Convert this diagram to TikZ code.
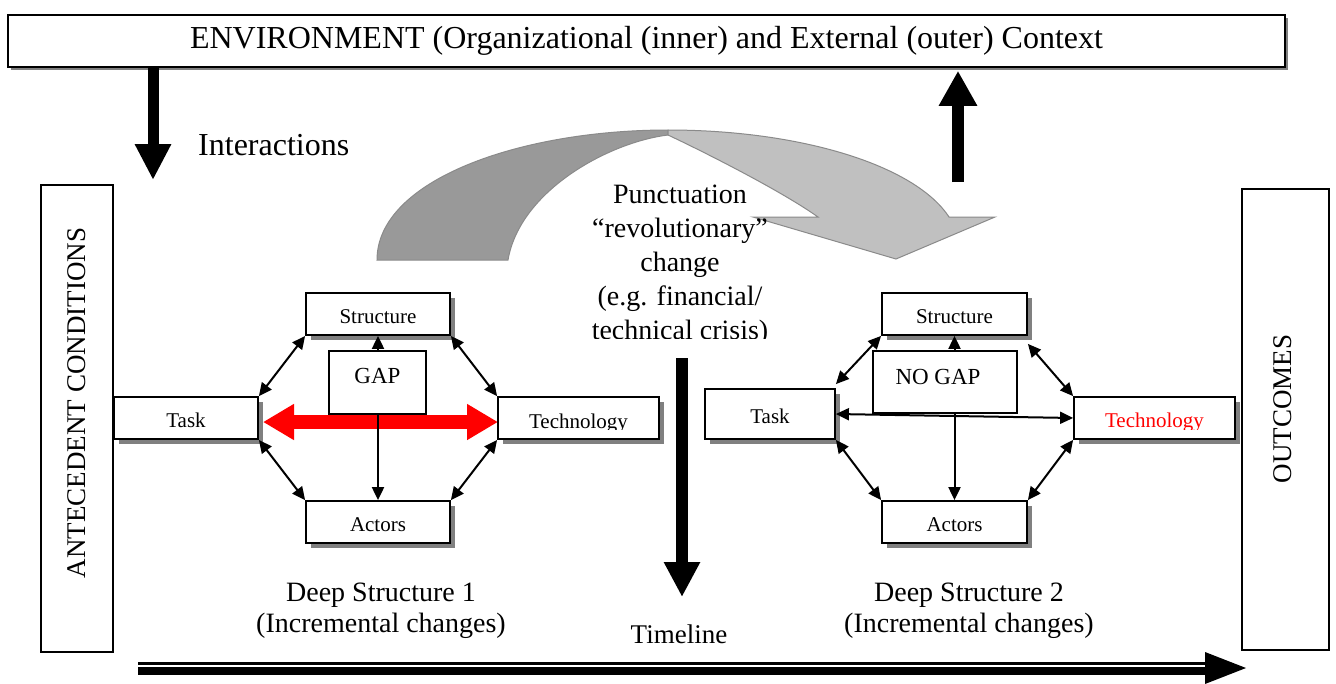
\documentclass[tikz,border=0pt]{standalone}
\usepackage{fontspec}
\setmainfont{Liberation Serif}
\usetikzlibrary{arrows.meta,shadows}
\definecolor{shadowgray}{HTML}{808080}
\definecolor{darkband}{HTML}{999999}
\definecolor{lightband}{HTML}{C0C0C0}
\definecolor{bandedge}{HTML}{8A8A8A}
\begin{document}
\begin{tikzpicture}[x=1pt,y=-1pt,
  box/.style={draw, line width=1.8pt, fill=white, inner sep=0pt,
    font=\fontsize{21}{25}\selectfont, text height=18pt, text depth=0pt,
    drop shadow={shadow xshift=5pt,shadow yshift=-5pt,fill=shadowgray,opacity=1}},
  bigbox/.style={draw, line width=1.6pt, fill=white, inner sep=0pt,
    font=\fontsize{27}{32}\selectfont},
  lbl/.style={inner sep=0pt, font=\fontsize{21}{25}\selectfont},
  big/.style={inner sep=0pt, font=\fontsize{28}{31}\selectfont, align=center},
  dbl/.style={line width=2pt, {Triangle[length=13pt,width=12pt]}-{Triangle[length=13pt,width=12pt]}},
  one/.style={line width=2pt, -{Triangle[length=13pt,width=12pt]}},
  bigarrow/.style={line width=11pt, -{Triangle[length=36pt,width=34pt]}}
]
\useasboundingbox (0,0) rectangle (1336,683);
\fill[white] (0,0) rectangle (1336,683);

% Environment box
\node[bigbox, minimum width=1277pt, minimum height=52pt, font=\fontsize{32}{36}\selectfont,
  drop shadow={shadow xshift=3pt,shadow yshift=-3pt,fill=shadowgray,opacity=1}]
  (env) at (646.5,41) {ENVIRONMENT (Organizational (inner) and External (outer) Context};

% Side boxes
\node[bigbox, minimum width=72pt, minimum height=467pt] (ante) at (77,418.5) {};
\node[inner sep=0pt, font=\fontsize{27}{32}\selectfont, rotate=90] (antetxt) at (77,403) {ANTECEDENT CONDITIONS};
\node[bigbox, minimum width=87pt, minimum height=461pt] (outc) at (1285.5,419.5) {};
\node[inner sep=0pt, font=\fontsize{27}{32}\selectfont, rotate=90] (outctxt) at (1283,409) {OUTCOMES};

% Interactions arrows
\coordinate (intEnd) at (153,180);
\draw[bigarrow] (env.south -| intEnd) -- (intEnd);
\node[inner sep=0pt, font=\fontsize{32}{36}\selectfont, anchor=base west] (inter) at (198,155) {Interactions};
\coordinate (upStart) at (958,182);
\draw[bigarrow, line width=12pt, -{Triangle[length=35pt,width=36pt]}] (upStart) -- ([yshift=-3pt]env.south -| upStart);

% Curved punctuation arrow
\filldraw[fill=darkband, draw=bandedge, line width=1pt]
  (377,260) .. controls (377,180) and (520,130) .. (668,130)
  -- (668,135) .. controls (610,142) and (520,190) .. (508,260) -- cycle;
\filldraw[fill=lightband, draw=bandedge, line width=1pt]
  (668,130) .. controls (800,130) and (915,165) .. (949,217)
  -- (995,217) -- (896,259) -- (753,217) -- (818,217)
  .. controls (780,190) and (700,150) .. (668,135) -- cycle;

% Punctuation text (clipped at bottom)
\begin{scope}
  \clip (540,150) rectangle (820,338);
  \node[big, font=\fontsize{28}{34}\selectfont, anchor=north] (punct) at (680,185)
    {Punctuation\\“revolutionary”\\change\\(e.g. financial/\\technical crisis)};
\end{scope}

% Timeline arrows
\coordinate (tlTop) at (682,358);
\coordinate (tlEnd) at (682,597);
\draw[line width=12pt, -{Triangle[length=35pt,width=34pt]}] (tlTop) -- (tlEnd);
\node[inner sep=0pt, font=\fontsize{27}{31}\selectfont, anchor=base] (timeline) at (679,643) {Timeline};

\coordinate (tlS) at (138,668);
\coordinate (tlE) at (1246,668);
\draw[line width=3pt] ([yshift=4.5pt]tlS) -- ([yshift=4.5pt,xshift=-36pt]tlE);
\draw[line width=8pt] ([yshift=-3pt]tlS) -- ([yshift=-3pt,xshift=-36pt]tlE);
\fill (tlE) -- ++(-41,-16) -- ++(0,32) -- cycle;

% ---------- Deep structure 1 ----------
\draw[red, line width=14pt, {Triangle[length=31pt,width=34pt]}-{Triangle[length=31pt,width=34pt]}]
  (263,422) -- (498,422);
\node[box, minimum width=144pt, minimum height=42pt] (strL) at (378,314) {Structure};
\node[box, minimum width=144pt, minimum height=42pt] (taskL) at (186,418) {Task};
\node[box, minimum width=161pt, minimum height=42pt] (techL) at (578.5,418) {};
\begin{scope}
  \clip (techL.north west) rectangle ([yshift=-11pt]techL.east);
  \node[lbl, anchor=base] (techLtxt) at ([yshift=-10pt]techL.center) {Technology};
\end{scope}
\node[box, minimum width=144pt, minimum height=42pt] (actL) at (378,522) {Actors};
\node[draw, line width=1.8pt, fill=white, inner sep=0pt, minimum width=97pt, minimum height=63pt,
  font=\fontsize{23}{27}\selectfont, text height=16pt, text depth=14pt] (gapL) at (377.5,382.5) {GAP};

\draw[one] (gapL.north -| strL.south) -- (strL.south);
\draw[one] (gapL.south -| actL.north) -- (actL.north);
\draw[dbl] (strL.south west) -- (taskL.north east);
\draw[dbl] (strL.south east) -- (techL.north west);
\draw[dbl] (taskL.south east) -- (actL.north west);
\draw[dbl] (techL.south west) -- (actL.north east);

\node[big, anchor=north] (ds1) at (381,583) {Deep Structure 1\\(Incremental changes)};

% ---------- Deep structure 2 ----------
\node[box, minimum width=145pt, minimum height=42pt] (strR) at (954.5,314) {Structure};
\node[box, minimum width=130pt, minimum height=50pt] (taskR) at (770,414) {Task};
\node[box, minimum width=161pt, minimum height=42pt] (techR) at (1154.5,418) {};
\begin{scope}
  \clip (techR.north west) rectangle ([yshift=-11pt]techR.east);
  \node[lbl, anchor=base, text=red] (techRtxt) at ([yshift=-9pt]techR.center) {Technology};
\end{scope}
\node[box, minimum width=145pt, minimum height=42pt] (actR) at (954.5,522) {Actors};
\node[draw, line width=1.8pt, fill=white, inner sep=0pt, minimum width=144pt, minimum height=62pt,
  font=\fontsize{23}{27}\selectfont, text height=16pt, text depth=12pt] (gapR) at (945,382) {NO GAP\hspace*{14pt}};

\draw[dbl] (taskR.east) -- (techR.west);
\draw[one] (gapR.north -| strR.south) -- (strR.south);
\draw[one] (gapR.south -| actR.north) -- (actR.north);
\draw[dbl] (strR.south west) -- ([yshift=4pt]taskR.north east);
\draw[dbl] ([yshift=-8pt]strR.south east) -- (techR.north west);
\draw[dbl] (taskR.south east) -- (actR.north west);
\draw[dbl] (techR.south west) -- (actR.north east);

\node[big, anchor=north] (ds2) at (969,583) {Deep Structure 2\\(Incremental changes)};
\end{tikzpicture}
\end{document}
